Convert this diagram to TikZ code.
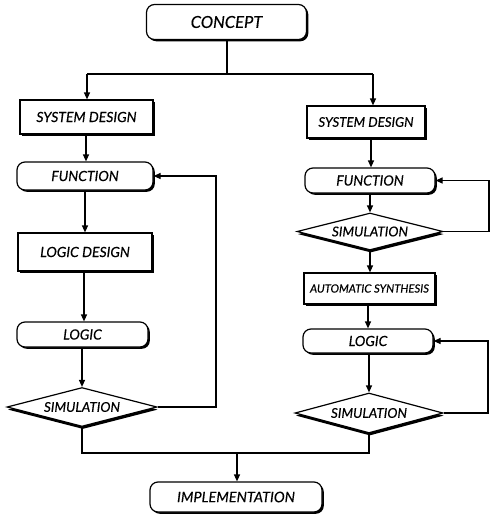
\documentclass[tikz,border=0pt]{standalone}
\usepackage{fontspec}
\setmainfont{Lato}
\newfontface\labfont{Lato Italic}[FakeBold=0.4]
\usetikzlibrary{shapes.geometric,shadows,arrows.meta}
\begin{document}
\begin{tikzpicture}[x=1pt,y=-1pt,line width=1.2pt,
  box/.style={draw,fill=white,rectangle,inner sep=0pt,
    drop shadow={shadow xshift=1.8pt,shadow yshift=-1.8pt,opacity=1,fill=black}},
  rbox/.style={box,rounded corners=8pt},
  dia/.style={draw,fill=white,diamond,aspect=4,inner sep=0pt,
    drop shadow={shadow xshift=0.8pt,shadow yshift=-2.6pt,opacity=1,fill=black}},
  lbl/.style={font=\labfont\fontsize{#1}{#1}\selectfont},
  arr/.style={-{Triangle[length=7pt,width=6pt]}}
]
\useasboundingbox (0,0) rectangle (491,522);
% nodes
\node[rbox,lbl=16.5,minimum width=160pt,minimum height=35pt] (concept) at (226.5,22) {CONCEPT};
\node[box,lbl=14,minimum width=133pt,minimum height=34pt] (sdL) at (86.5,117) {SYSTEM DESIGN};
\node[box,lbl=13.3,minimum width=118pt,minimum height=32pt] (sdR) at (366,122) {SYSTEM DESIGN};
\node[rbox,lbl=14,minimum width=136pt,minimum height=28pt] (fnL) at (85,176) {FUNCTION};
\node[box,lbl=14,minimum width=134pt,minimum height=38pt] (ldL) at (85,252) {LOGIC DESIGN};
\node[rbox,lbl=14,minimum width=131pt,minimum height=25pt] (lgL) at (82.5,334.5) {LOGIC};
\node[dia,lbl=13.5,minimum width=150pt,minimum height=39pt] (simL) at (82,407) {SIMULATION};
\node[rbox,lbl=14,minimum width=130pt,minimum height=25pt] (fnR) at (370,180.5) {FUNCTION};
\node[dia,lbl=13.5,minimum width=146pt,minimum height=37pt] (simR1) at (370,231.5) {SIMULATION};
\node[box,lbl=11.3,minimum width=131pt,minimum height=31pt] (asR) at (369.5,288.5) {AUTOMATIC SYNTHESIS};
\node[rbox,lbl=14,minimum width=130pt,minimum height=24pt] (lgR) at (368,341) {LOGIC};
\node[dia,lbl=13.5,minimum width=148pt,minimum height=40pt] (simR2) at (369,413) {SIMULATION};
\node[rbox,lbl=14.5,minimum width=172pt,minimum height=30pt] (impl) at (236,497) {IMPLEMENTATION};
% junction coordinates
\coordinate (cj) at (227,74);
\coordinate (bl) at (87,74);
\coordinate (br) at (373,74);
\coordinate (cL1) at (86,0);
\coordinate (cL2) at (85,0);
\coordinate (cL3) at (84,0);
\coordinate (cR1) at (371,0);
\coordinate (fbL) at (216,0);
\coordinate (fbR1) at (489,0);
\coordinate (fbR2) at (488,0);
\coordinate (m) at (237,453);
% connectors
\draw (concept.south -| cj) -- (cj);
\draw (bl) -- (br);
\draw[arr] (bl) -- (sdL.north -| bl);
\draw[arr] (br) -- (sdR.north -| br);
\draw[arr] (sdL.south -| cL1) -- (fnL.north -| cL1);
\draw[arr] (fnL.south -| cL2) -- (ldL.north -| cL2);
\draw[arr] (ldL.south -| cL3) -- (lgL.north -| cL3);
\draw[arr] (lgL.south -| simL.north) -- (simL.north);
\draw[arr] (simL.east) -- (simL.east -| fbL) -- (fnL.east -| fbL) -- (fnL.east);
\draw[arr] (sdR.south -| cR1) -- (fnR.north -| cR1);
\draw[arr] (fnR.south -| simR1.north) -- (simR1.north);
\draw[arr] (simR1.east) -- (simR1.east -| fbR1) -- (fnR.east -| fbR1) -- (fnR.east);
\draw[arr] (simR1.south) -- (asR.north -| simR1.south);
\draw[arr] (asR.south -| lgR.south) -- (lgR.north);
\draw[arr] (lgR.south -| simR2.north) -- (simR2.north);
\draw[arr] (simR2.east) -- (simR2.east -| fbR2) -- (lgR.east -| fbR2) -- (lgR.east);
\draw (simL.south) |- (m) -| (simR2.south);
\draw[arr] (m) -- (impl.north -| m);
\end{tikzpicture}
\end{document}
